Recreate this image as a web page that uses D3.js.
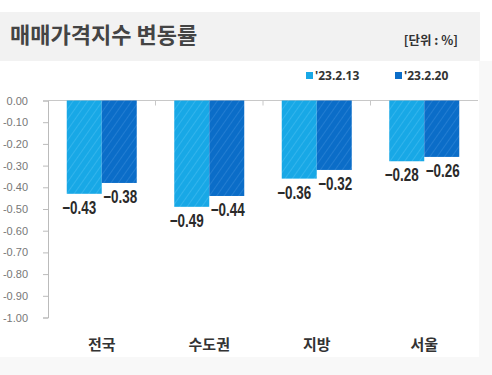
<!DOCTYPE html>
<html>
<head>
<meta charset="utf-8">
<script src="https://cdn.jsdelivr.net/npm/d3@7"></script>
<style>
  body { margin: 0; background: #fff; }
  svg { display: block; }
</style>
</head>
<body>
<div id="chart"></div>
<script>
// data
const categories = ["전국", "수도권", "지방", "서울"]
const seriesNames = ["'23.2.13", "'23.2.20"]
const feb13 = [-0.43, -0.49, -0.36, -0.28]
const feb20 = [-0.38, -0.44, -0.32, -0.26]
const yTicks = [0, -0.1, -0.2, -0.3, -0.4, -0.5, -0.6, -0.7, -0.8, -0.9, -1.0]

const width = 492
const height = 375
const colors = ["#18a8e6", "#0b6dc8"]
const stripe = ["#3cb8ee", "#2a82d4"]
const numFont = "'Liberation Sans', Arial, sans-serif"
const korFont = "'Noto Sans CJK KR', sans-serif"

const svg = d3.select("#chart").append("svg")
    .attr("width", width)
    .attr("height", height)

// hatched fills for the bars
const defs = svg.append("defs")
colors.forEach((c, i) => {
    const p = defs.append("pattern")
        .attr("id", "hatch" + i)
        .attr("patternUnits", "userSpaceOnUse")
        .attr("width", 6).attr("height", 6)
        .attr("patternTransform", "rotate(35)")
    p.append("rect").attr("width", 6).attr("height", 6).attr("fill", c)
    p.append("line")
        .attr("x1", 0).attr("y1", 0).attr("x2", 0).attr("y2", 6)
        .attr("stroke", stripe[i]).attr("stroke-width", 1.5)
})

// faint frame around the white area
svg.append("rect").attr("x", 479).attr("y", 61).attr("width", 13).attr("height", 314).attr("fill", "#f8f8f8")
svg.append("rect").attr("x", 0).attr("y", 357).attr("width", 492).attr("height", 18).attr("fill", "#f8f8f8")

// title band
svg.append("rect")
    .attr("x", 0).attr("y", 12)
    .attr("width", 480).attr("height", 49)
    .attr("fill", "#f2f2f2")

svg.append("text")
    .attr("x", 10).attr("y", 43)
    .style("font-family", korFont)
    .style("font-size", "22px")
    .style("font-weight", "bold")
    .style("fill", "#444")
    .text("매매가격지수 변동률")

svg.append("text")
    .attr("x", 458).attr("y", 45)
    .attr("text-anchor", "end")
    .style("font-family", korFont)
    .style("font-size", "12.5px")
    .style("font-weight", "bold")
    .style("fill", "#333")
    .text("[단위 : %]")

// legend
const legendX = [306, 395]
seriesNames.forEach((name, i) => {
    svg.append("rect")
        .attr("x", legendX[i]).attr("y", 72)
        .attr("width", 7).attr("height", 7)
        .attr("fill", colors[i])
    svg.append("text")
        .attr("x", legendX[i] + 9).attr("y", 80)
        .style("font-family", "'Open Sans', 'Liberation Sans', sans-serif")
        .style("font-size", "12px")
        .style("font-weight", "bold")
        .style("fill", "#333")
        .text(name)
})

// scales
const x0 = d3.scaleBand().domain(categories).range([48, 478])
const groupW = 70
const x1 = d3.scaleBand().domain(seriesNames)
    .range([(x0.bandwidth() - groupW) / 2, (x0.bandwidth() + groupW) / 2])
const y = d3.scaleLinear().domain([0, -1]).range([100.5, 317.5])

// y axis
const yAxis = svg.append("g")
    .attr("transform", "translate(48,0)")
    .call(d3.axisLeft(y).tickValues(yTicks).tickFormat(d3.format(".2f")).tickSize(5).tickPadding(15))
yAxis.select(".domain").attr("stroke", "#bbb")
yAxis.selectAll(".tick line").attr("stroke", "#bbb")
yAxis.selectAll(".tick text")
    .style("font-family", numFont)
    .style("font-size", "11px")
    .style("fill", "#777")
    .text(d => d3.format(".2f")(d).replace("−", "-"))

// x axis line along zero, with ticks between categories
svg.append("line")
    .attr("x1", 48).attr("x2", 478)
    .attr("y1", y(0)).attr("y2", y(0))
    .attr("stroke", "#c8c8c8")
svg.selectAll("line.sep")
    .data(categories.slice(1))
    .join("line")
    .attr("class", "sep")
    .attr("x1", d => x0(d)).attr("x2", d => x0(d))
    .attr("y1", y(0)).attr("y2", y(0) + 5)
    .attr("stroke", "#c8c8c8")

// bars
const rows = categories.map((c, i) => ({cat: c, vals: [feb13[i], feb20[i]]}))
const groups = svg.selectAll("g.grp")
    .data(rows)
    .join("g")
    .attr("class", "grp")
    .attr("transform", d => `translate(${x0(d.cat)},0)`)

groups.selectAll("rect")
    .data(d => d.vals.map((v, i) => ({name: seriesNames[i], v, i})))
    .join("rect")
    .attr("x", d => x1(d.name))
    .attr("y", y(0))
    .attr("width", x1.bandwidth())
    .attr("height", d => y(d.v) - y(0))
    .attr("fill", d => `url(#hatch${d.i})`)

// value labels, squeezed to look like the condensed face in the original
groups.selectAll("text.val")
    .data(d => d.vals.map((v, i) => ({name: seriesNames[i], v, i})))
    .join("text")
    .attr("class", "val")
    .attr("x", d => x1(d.name) + x1.bandwidth() / 2 - (d.i === 0 ? 5 : -1) - 17)
    .attr("y", d => y(d.v) + 20)
    .attr("textLength", 34)
    .attr("lengthAdjust", "spacingAndGlyphs")
    .style("font-family", numFont)
    .style("font-size", "18px")
    .style("font-weight", "bold")
    .style("fill", "#2a2a2a")
    .text(d => "\u2212" + Math.abs(d.v).toFixed(2))

// category labels
svg.selectAll("text.cat")
    .data(categories)
    .join("text")
    .attr("class", "cat")
    .attr("x", d => x0(d) + x0.bandwidth() / 2)
    .attr("y", 350)
    .attr("text-anchor", "middle")
    .style("font-family", korFont)
    .style("font-size", "15px")
    .style("font-weight", "bold")
    .style("fill", "#333")
    .text(d => d)
</script>
</body>
</html>
